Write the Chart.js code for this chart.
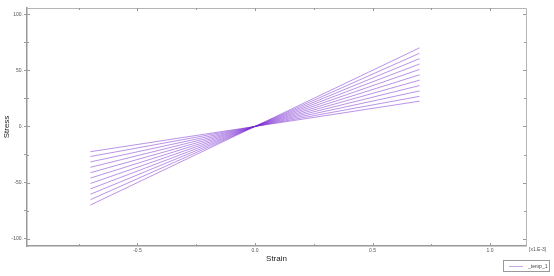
<!DOCTYPE html>
<html>
<head>
<meta charset="utf-8">
<script src="https://cdn.jsdelivr.net/npm/chart.js@4/dist/chart.umd.min.js"></script>
<style>
  html, body { margin:0; padding:0; background:#fff; }
  #wrap { position:relative; width:554px; height:276px; }
  #legend { position:absolute; left:503px; top:260px; width:47px; height:12px; border:1px solid #999;
    font:5px "Liberation Sans", Arial, sans-serif; color:#444; box-sizing:border-box; white-space:nowrap; }
  #legend .ln { position:absolute; left:5px; top:5px; width:14px; height:1px; background:#c7a6ea; }
  #legend .tx { position:absolute; left:24px; top:2px; }
</style>
</head>
<body>
<div id="wrap">
  <canvas id="chart" width="554" height="276"></canvas>
  <div id="legend"><div class="ln"></div><div class="tx">_temp_1</div></div>
</div>
<script>
// ── data ────────────────────────────────────────────────────────────────────
const strainPts  = [-0.7, 0, 0.7];                         // x1.E-3
const stressEnds = [70, 65.2, 60.4, 55.6, 50.8, 46, 41.2, 36.4, 31.6, 26.8, 22.5];
const xTicks     = [-0.75, -0.5, -0.25, 0, 0.25, 0.5, 0.75, 1.0];
const yTicks     = [-100, -75, -50, -25, 0, 25, 50, 75, 100];

const FONT = '"Liberation Sans", Arial, sans-serif';
const AXIS = '#9a9a9a';

const datasets = stressEnds.map((s, i) => ({
  label: i === 0 ? '_temp_1' : '',
  data: strainPts.map(x => ({ x, y: x / 0.7 * s })),
  borderColor: 'rgba(120,40,210,0.5)',
  borderWidth: 1,
  pointRadius: 0,
  fill: false,
  tension: 0
}));

// frame on top/right + small inward ticks + exponent note
const framePlugin = {
  id: 'frame',
  afterDraw(chart) {
    const { ctx, chartArea: a, scales: { x, y } } = chart;
    ctx.save();
    ctx.strokeStyle = '#b5b5b5';
    ctx.lineWidth = 1;
    ctx.beginPath();
    ctx.moveTo(a.left, a.top + 0.5); ctx.lineTo(a.right + 0.5, a.top + 0.5);
    ctx.lineTo(a.right + 0.5, a.bottom);
    ctx.stroke();
    ctx.strokeStyle = '#999';
    ctx.beginPath();
    xTicks.forEach(v => {
      const px = Math.round(x.getPixelForValue(v)) + 0.5;
      const len = v % 0.5 === 0 ? 3 : 2;
      ctx.moveTo(px, a.top); ctx.lineTo(px, a.top + len);
      ctx.moveTo(px, a.bottom); ctx.lineTo(px, a.bottom - len);
    });
    yTicks.forEach(v => {
      const py = Math.round(y.getPixelForValue(v)) + 0.5;
      const len = v % 50 === 0 ? 3 : 2;
      ctx.moveTo(a.right, py); ctx.lineTo(a.right - len, py);
      ctx.moveTo(a.left, py); ctx.lineTo(a.left + len, py);
    });
    ctx.stroke();
    ctx.fillStyle = '#555';
    ctx.font = '5px ' + FONT;
    ctx.textBaseline = 'middle';
    ctx.fillText('[x1.E-3]', a.right + 3, a.bottom + 4);
    ctx.restore();
  }
};

new Chart(document.getElementById('chart'), {
  type: 'line',
  data: { datasets },
  plugins: [framePlugin],
  options: {
    responsive: false,
    animation: false,
    layout: { padding: { top: 8, right: 28, left: 0, bottom: 0 } },
    plugins: { legend: { display: false }, tooltip: { enabled: false } },
    scales: {
      x: {
        type: 'linear',
        min: -0.97, max: 1.153,
        afterBuildTicks: s => { s.ticks = xTicks.map(v => ({ value: v })); },
        afterFit: s => { s.height = 30; },
        border: { color: AXIS, width: 1.5 },
        grid: { drawOnChartArea: false, tickLength: 0 },
        ticks: {
          autoSkip: false, maxRotation: 0, padding: 2, color: '#555',
          font: { size: 5, family: FONT },
          callback: v => (Math.abs(v % 0.5) < 1e-9 ? v.toFixed(1) : '')
        },
        title: { display: true, text: 'Strain', color: '#222',
          font: { size: 8, family: FONT }, padding: { top: 0, bottom: 12 } }
      },
      y: {
        type: 'linear',
        min: -106.5, max: 105.5,
        afterBuildTicks: s => { s.ticks = yTicks.map(v => ({ value: v })); },
        afterFit: s => { s.width = 27; },
        border: { color: AXIS, width: 1.5 },
        grid: { drawOnChartArea: false, tickLength: 3, color: AXIS },
        ticks: {
          autoSkip: false, padding: 1, color: '#555',
          font: { size: 5, family: FONT },
          callback: v => (v % 50 === 0 ? v + '.' : '')
        },
        title: { display: true, text: 'Stress', color: '#222',
          font: { size: 8, family: FONT }, padding: { top: 2, bottom: 0 } }
      }
    }
  }
});
</script>
</body>
</html>
